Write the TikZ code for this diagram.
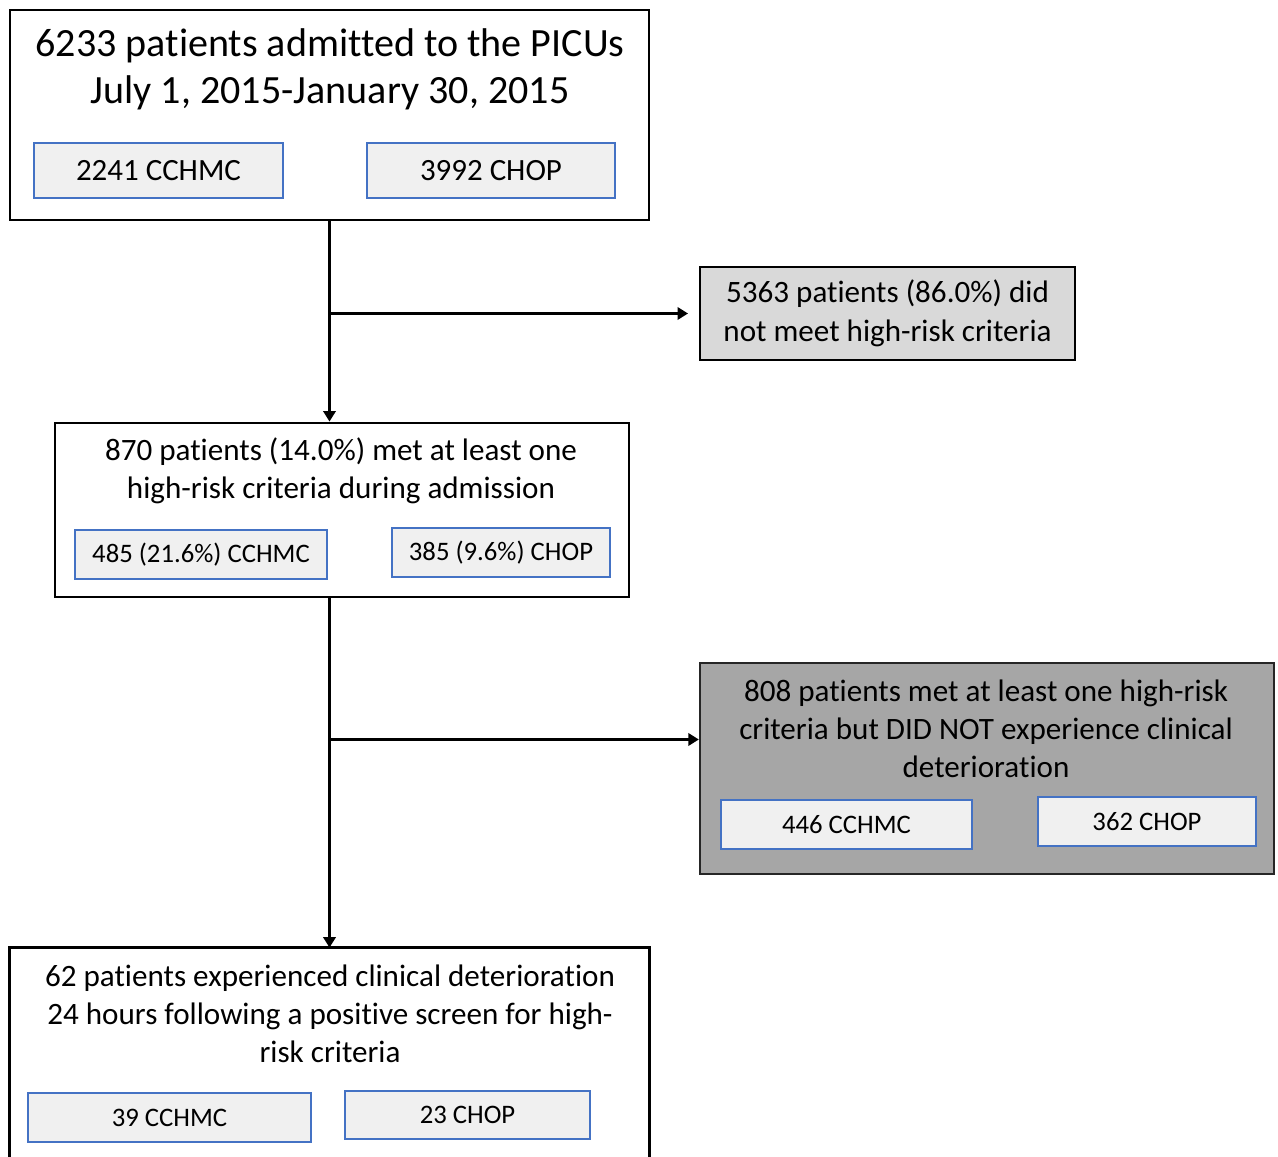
\documentclass[tikz,border=0pt]{standalone}
\usepackage{fontspec}
\setmainfont{Carlito}[Ligatures=NoCommon]
\usepackage{tikz}
\usetikzlibrary{positioning, arrows.meta}

\definecolor{siteblue}{HTML}{4472C4}
\definecolor{sitefill}{HTML}{F0F0F0}
\definecolor{lightbox}{HTML}{D9D9D9}
\definecolor{darkbox}{HTML}{A6A6A6}

\tikzset{
  bigbox/.style={draw, line width=1.6pt, fill=white},
  sitebox/.style={draw=siteblue, fill=sitefill, line width=1.1pt, minimum height=0.98cm, inner sep=0pt},
  flow/.style={-{Triangle[length=6pt, width=7pt]}, line width=1.6pt}
}

\begin{document}
\begin{tikzpicture}
            \useasboundingbox (0,0) rectangle (25.56,23.14);

            % Admitted patients (top)
            \node (admit) [bigbox, minimum width=12.78cm, minimum height=4.2cm] at (6.59, 20.84) {};
            \node (admittxt) [align=center, font=\fontsize{22.8}{26.8}\selectfont] at (6.6, 21.76) {6233 patients admitted to the PICUs\\July 1, 2015-January 30, 2015};
            \node (admitA) [sitebox, minimum width=4.98cm, minimum height=1.1cm, font=\fontsize{17.6}{20}\selectfont] at (3.17, 19.73) {2241 CCHMC};
            \node (admitB) [sitebox, minimum width=4.96cm, minimum height=1.1cm, font=\fontsize{17.6}{20}\selectfont] at (9.82, 19.73) {3992 CHOP};

            % Not high-risk (right)
            \node (nothigh) [bigbox, fill=lightbox, minimum width=7.5cm, minimum height=1.86cm, align=center, font=\fontsize{17.7}{22}\selectfont] at (17.75, 16.87) {5363 patients (86.0\%) did\\not meet high-risk criteria};

            % High-risk patients (middle)
            \node (high) [bigbox, minimum width=11.48cm, minimum height=3.48cm] at (6.84, 12.94) {};
            \node (hightxt) [align=center, font=\fontsize{17.7}{21.5}\selectfont] at (6.82, 13.72) {870 patients (14.0\%) met at least one\\high-risk criteria during admission};
            \node (highA) [sitebox, minimum width=5.04cm, font=\fontsize{15.2}{18}\selectfont] at (4.02, 12.05) {485 (21.6\%) CCHMC};
            \node (highB) [sitebox, minimum width=4.36cm, font=\fontsize{15.2}{18}\selectfont] at (10.02, 12.09) {385 (9.6\%) CHOP};

            % No deterioration (right)
            \node (nodet) [draw=black!85, line width=1.3pt, fill=darkbox, minimum width=11.48cm, minimum height=4.22cm] at (19.74, 7.77) {};
            \node (nodettxt) [align=center, font=\fontsize{17.7}{21.5}\selectfont] at (19.72, 8.56) {808 patients met at least one high-risk\\criteria but DID NOT experience clinical\\deterioration};
            \node (nodetA) [sitebox, minimum width=5.02cm, font=\fontsize{15.2}{18}\selectfont] at (16.93, 6.65) {446 CCHMC};
            \node (nodetB) [sitebox, minimum width=4.36cm, font=\fontsize{15.2}{18}\selectfont] at (22.94, 6.71) {362 CHOP};

            % Deterioration (bottom, open at the page edge)
            \node (det) [fill=white, minimum width=12.78cm, minimum height=4.18cm] at (6.59, 2.09) {};
            \draw[line width=1.6pt] (det.south west) -- (det.north west) -- (det.north east) -- (det.south east);
            \node (dettxt) [align=center, font=\fontsize{17.7}{21.5}\selectfont] at (6.6, 2.86) {62 patients experienced clinical deterioration\\24 hours following a positive screen for high-\\risk criteria};
            \node (detA) [sitebox, minimum width=5.66cm, font=\fontsize{15.2}{18}\selectfont] at (3.39, 0.79) {39 CCHMC};
            \node (detB) [sitebox, minimum width=4.9cm, minimum height=0.96cm, font=\fontsize{15.2}{18}\selectfont] at (9.35, 0.84) {23 CHOP};

            % Connections
            \coordinate (split1) at (admit.south |- nothigh.west);
            \draw[flow] (admit.south) -- (admit.south |- high.north);
            \draw[flow, shorten >=6pt] (split1) -- (nothigh.west);

            \coordinate (split2) at (admit.south |- 0,8.35);
            \coordinate (trunk2) at (admit.south |- high.south);
            \draw[flow] (trunk2) -- (trunk2 |- det.north);
            \draw[flow] (split2) -- (split2 -| nodet.west);
\end{tikzpicture}
\end{document}
